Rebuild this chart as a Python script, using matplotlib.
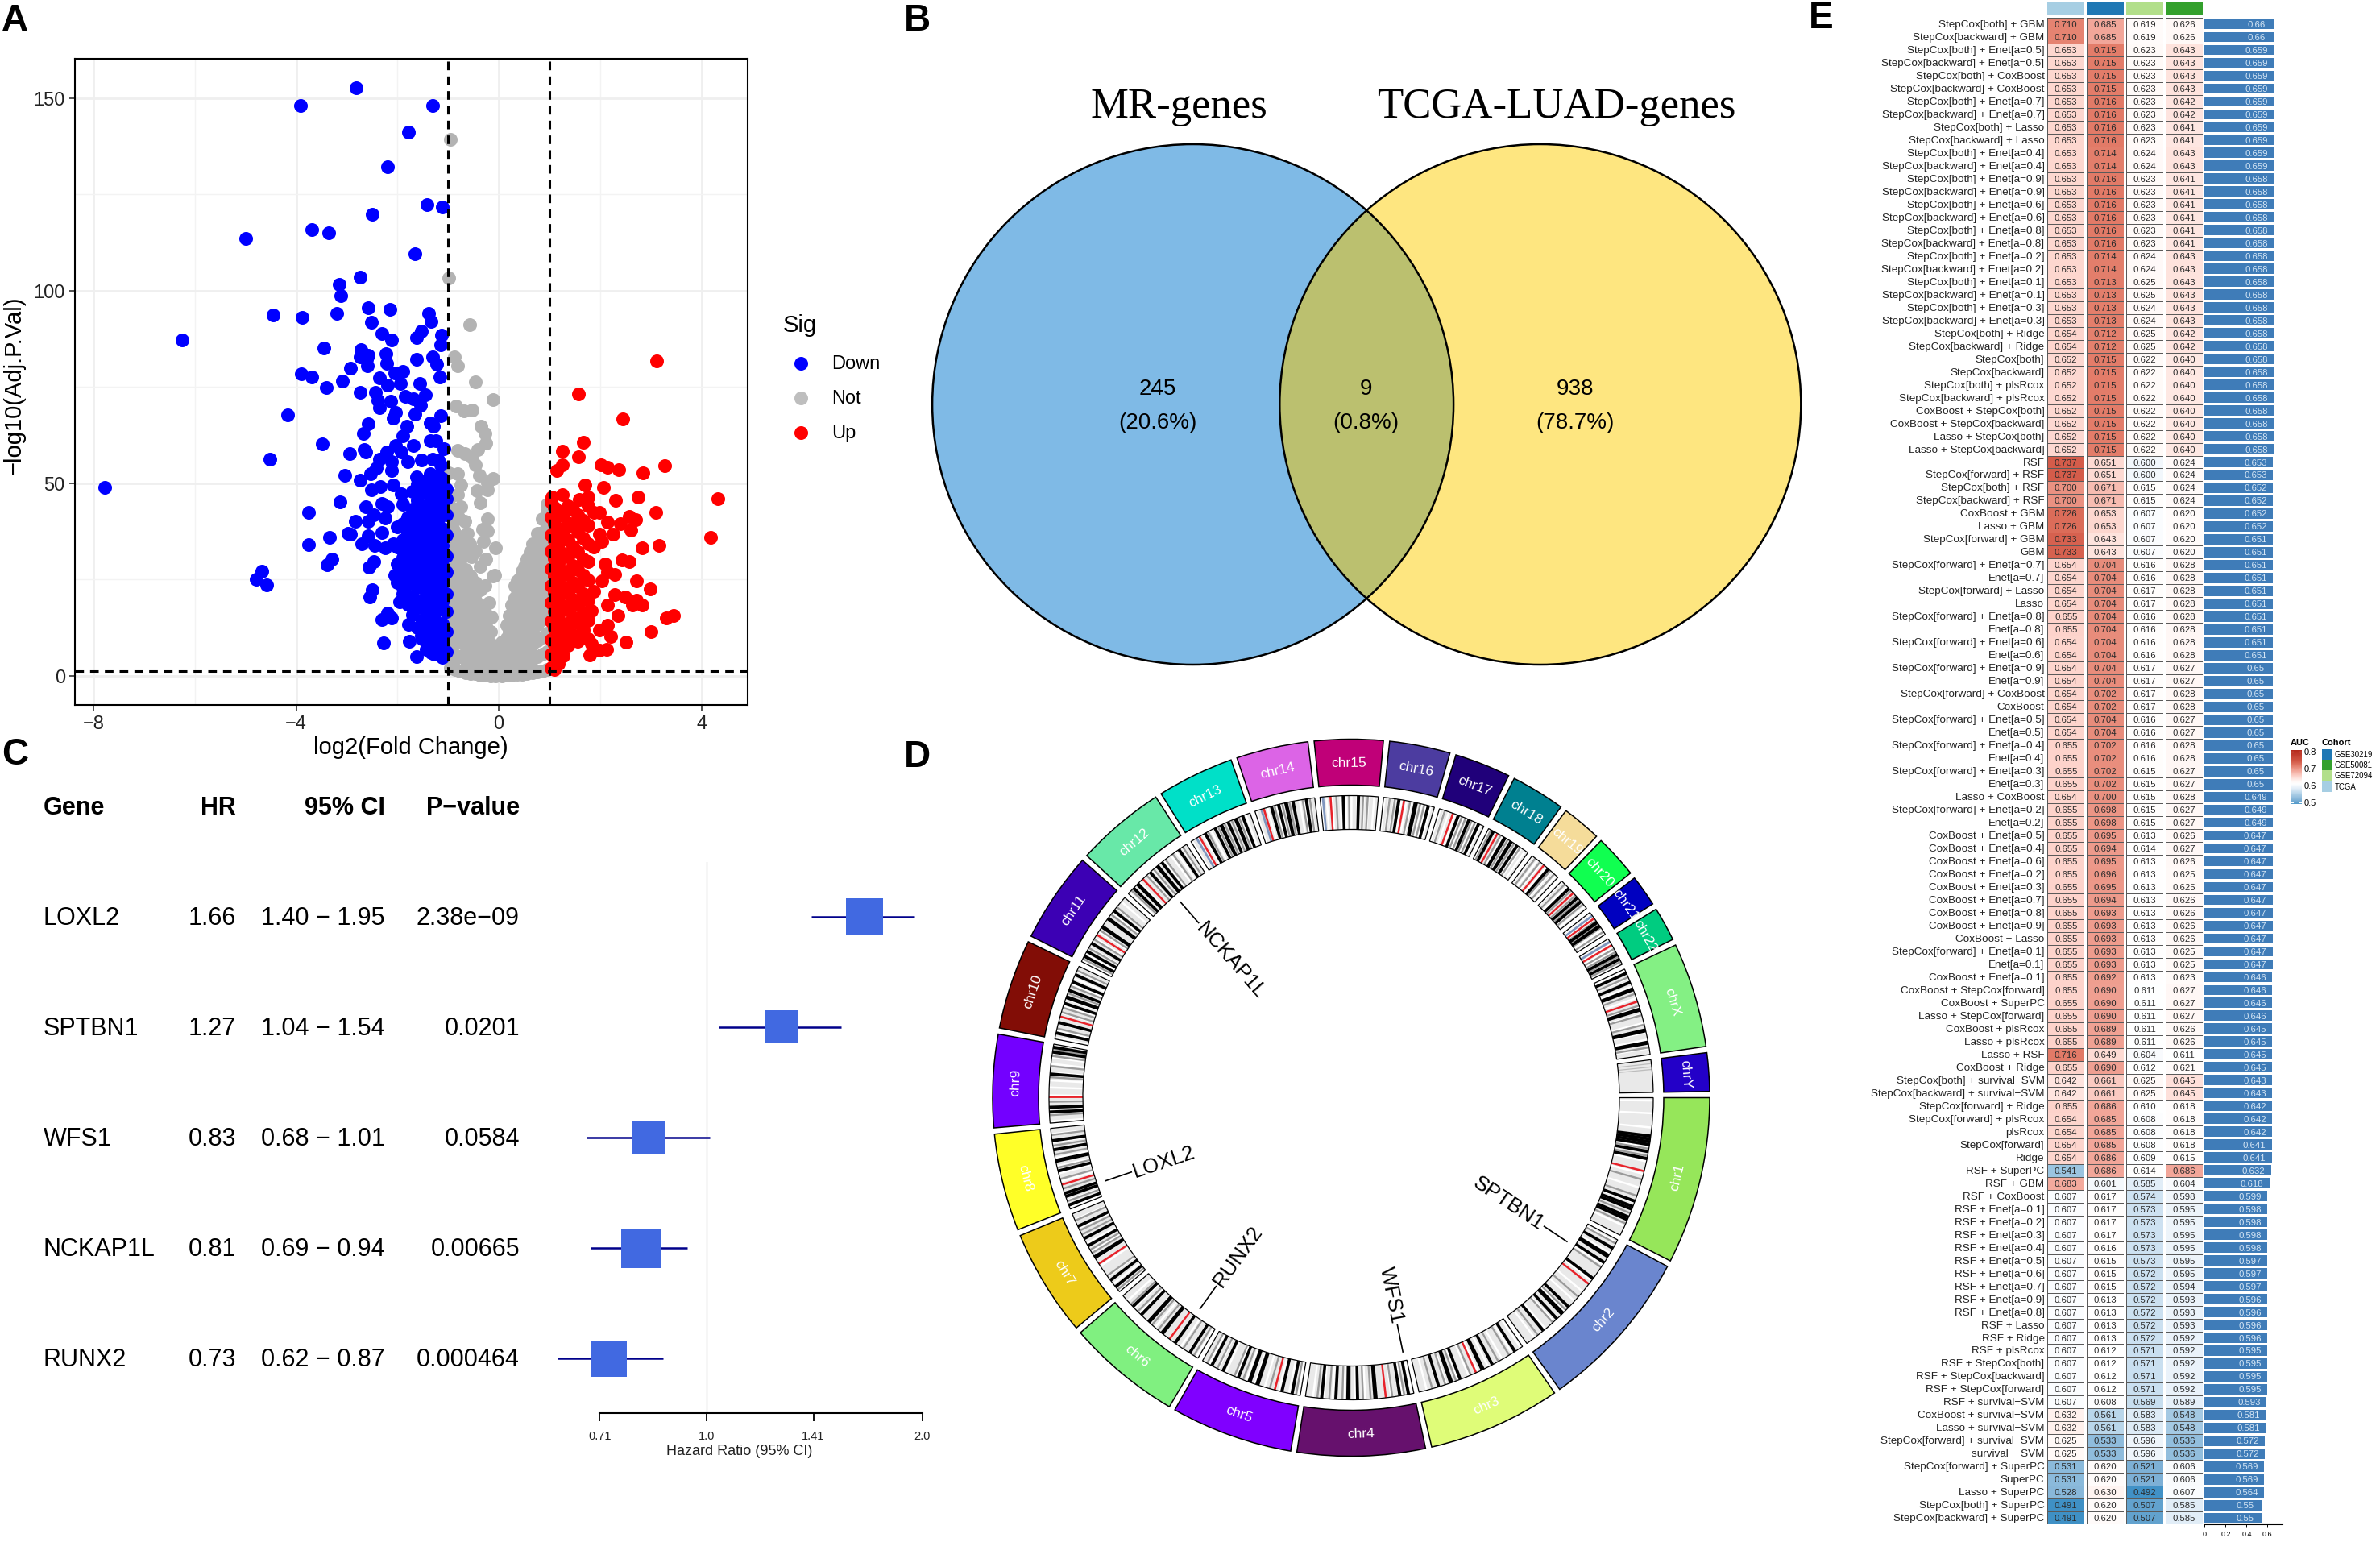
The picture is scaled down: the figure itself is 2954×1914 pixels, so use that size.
import numpy as np
import matplotlib
matplotlib.use("Agg")
import matplotlib.pyplot as plt
from matplotlib.colors import LinearSegmentedColormap
from matplotlib.patches import Ellipse, Wedge, Rectangle

plt.rcParams['font.family'] = ['Liberation Sans', 'DejaVu Sans']

W, H = 2954, 1915

# ---- panel A, volcano: scattered points read one by one, dense parts by column
down_points = [
    (-2.82,152.6),(-3.91,148.1),(-1.30,148.1),(-1.78,141.2),(-2.19,132.1),(-1.41,122.4),(-1.11,121.8),
    (-2.50,119.8),(-3.69,115.9),(-3.36,115.1),(-4.99,113.6),(-1.65,109.6),(-2.73,103.6),(-3.15,101.7),
    (-3.12,98.8),(-2.58,95.6),(-2.15,95.1),(-1.39,94.2),(-4.45,93.7),(-3.20,94.1),(-3.88,93.0),(-2.52,91.8),
    (-1.34,92.0),(-1.53,89.5),(-2.31,88.9),(-1.62,87.8),(-1.13,88.5),(-2.11,87.2),(-6.25,87.1),(-1.14,85.9),
    (-3.45,85.1),(-2.72,84.6),(-2.58,83.2),(-2.23,83.6),(-2.74,82.7),(-1.31,82.8),(-1.63,82.1),(-2.61,82.2),
    (-2.21,81.2),(-1.23,80.9),(-2.60,80.4),(-2.92,79.9),(-3.89,78.4),(-3.69,77.6),(-1.89,79.0),(-2.06,78.6),
    (-2.36,77.3),(-1.16,77.5),(-3.09,76.6),(-1.94,75.8),(-2.19,75.5),(-1.56,75.8),(-3.41,74.9),(-2.74,73.6),
    (-2.43,73.6),(-1.45,73.0),(-2.38,71.6),(-2.14,71.3),(-1.85,72.6),(-1.68,72.0),(-1.54,70.3),(-2.36,69.7),
    (-2.04,68.4),(-1.65,67.9),(-2.08,67.0),(-1.14,67.6),(-4.16,67.7),(-2.58,65.4),(-1.36,65.6),(-1.29,64.9),
    (-1.82,64.8),(-2.67,63.0),(-1.89,62.4),(-1.36,61.1),(-1.24,61.1),(-3.48,60.2),(-2.04,59.8),(-1.69,59.8),
    (-1.09,59.0),(-2.95,57.7),(-2.66,58.8),(-2.62,58.1),(-2.21,58.1),(-1.92,58.1),(-4.52,56.3),(-2.36,56.3),
    (-2.11,55.7),(-1.80,55.7),(-1.53,56.0),(-1.30,56.3),(-1.19,56.0),(-1.14,54.7),(-2.11,53.4),(-2.42,54.0),
    (-2.53,52.4),(-3.04,52.1),(-2.73,50.8),(-1.63,51.7),(-1.19,52.1),(-2.51,48.3),(-2.34,49.2),(-2.08,49.6),
    (-7.77,48.9),(-1.92,47.2),(-3.13,45.1),(-3.75,42.4),(-2.62,43.8),(-2.31,44.8),(-2.47,41.9),(-2.19,43.8),
    (-2.58,40.2),(-2.83,40.2),(-2.25,41.0),(-2.97,37.0),(-2.92,36.7),(-3.34,36.0),(-3.75,34.1),(-2.70,34.3),
    (-2.58,36.4),(-2.45,33.9),(-2.31,37.1),(-2.25,33.2),(-2.08,34.2),(-3.29,30.2),(-3.39,28.8),(-2.47,29.7),
    (-2.56,28.2),(-4.67,27.1),(-4.79,25.0),(-4.58,23.7),(-2.50,22.4),(-2.54,20.5),(-2.06,26.2),(-1.92,23.6),
    (-1.95,19.2),(-2.19,16.3),(-2.11,15.1),(-2.30,14.6),(-1.78,13.3),(-2.27,8.6),(-1.76,9.0),(-1.62,4.9),
    (-1.53,10.5),(-1.34,6.0),
]
down_columns = [
    (-1.04,[6.2,11.4,16.8,21.3,26.9,31.2,36.5,41.8,45.9,48.6]),
    (-1.12,[4.7,9.1,13.6,19.2,24.1,28.7,33.8,38.2,43.4,47.3,51.2]),
    (-1.20,[7.3,12.2,17.1,22.5,27.4,31.9,35.6,40.7,44.8,49.5]),
    (-1.28,[5.6,10.3,14.8,20.4,25.6,30.1,34.7,39.3,42.6,46.9,50.5]),
    (-1.36,[8.1,13.1,18.3,23.2,28.3,32.9,37.6,41.5,45.2,48.1,52.4]),
    (-1.44,[6.8,11.7,16.2,21.6,26.4,30.8,35.2,39.9,44.1,50.8]),
    (-1.52,[9.5,14.3,19.4,24.8,29.3,33.5,38.1,42.7,47.6]),
    (-1.60,[12.5,17.8,22.9,27.7,31.6,36.3,40.9,45.6,49.8]),
    (-1.70,[15.9,20.7,25.3,29.9,34.6,38.8,43.2,47.8]),
    (-1.80,[18.6,23.8,28.1,32.4,37.2,41.1]),
    (-1.90,[21.2,26.8,30.7,35.4,39.5,44.6]),
    (-2.00,[24.3,29.1,33.4,38.6]),
]
not_points = [
    (-0.95,139.3),(-0.99,103.2),(-0.58,91.2),(-0.87,82.7),(-0.81,80.5),(-0.47,76.3),(-0.12,71.8),(-0.84,70.0),
    (-0.69,68.8),(-0.52,69.0),(-0.35,64.9),(-0.27,63.0),(-0.25,60.4),(-0.41,58.8),(-0.82,58.6),(-0.67,57.6),
    (-0.52,56.6),(-0.47,54.7),(-0.99,52.6),(-0.82,52.4),(-0.39,52.0),(-0.11,51.2),(-0.22,50.2),(-0.75,49.6),
    (-0.43,48.0),(-0.22,48.3),(-0.82,47.0),(-0.36,45.0),(-0.75,43.8),(-0.22,40.8),(-0.67,40.2),(-0.86,40.6),
    (-0.32,38.0),(-0.22,37.6),(-0.06,33.2),(-0.30,34.8),(-0.58,34.2),(-0.78,36.1),(-0.47,32.3),(-0.69,31.6),
    (-0.86,32.9),(-0.25,30.3),(-0.36,28.4),(-0.08,26.2),(-0.27,23.3),(-0.12,25.9),(-0.62,36.9),(-0.72,34.3),
    (-0.55,30.9),(-0.90,37.8),(-0.80,41.2),(-0.14,15.2),(-0.20,19.1),
]
not_columns = [
    (-0.96,[2.1,6.4,10.7,15.3,19.8,24.2,28.9,33.4,38.2,42.7,46.3]),
    (-0.91,[3.4,8.3,12.6,17.1,21.7,26.2,30.8,35.5]),
    (-0.86,[1.6,5.5,9.6,13.9,18.4,22.7,27.1,31.5,36.8,43.2]),
    (-0.76,[1.2,4.9,8.7,12.4,16.6,20.9,25.2,29.8]),
    (-0.66,[0.9,4.1,7.7,11.3,15.1,19.3,23.4,27.6]),
    (-0.56,[0.6,3.6,6.9,10.2,13.7,17.6,21.8,25.9]),
    (-0.46,[0.5,3.2,6.1,9.3,12.6,16.1,19.7,24.3]),
    (-0.36,[0.2,2.7,5.4,8.2,11.1,14.4,18.2,22.3]),
    (-0.26,[0.1,2.3,4.6,7.1,9.8,12.9,16.1]),
    (-0.16,[0.0,1.8,3.9,6.2,8.4,11.4]),
    (-0.06,[0.0,1.4,3.1,5.2,7.6]),
    (0.06,[0.0,1.5,3.3,6.1,8.7]),
    (0.16,[0.1,2.0,4.2,6.8,9.7,13.2]),
    (0.21,[1.3,3.6,5.9,8.3,11.4,15.6]),
    (0.26,[0.2,2.4,4.9,7.7,10.6,14.1,18.3]),
    (0.31,[1.6,4.1,6.6,9.4,12.6,16.4,20.2,23.4]),
    (0.36,[0.3,2.9,5.8,8.6,11.8,14.9,18.7,22.4,24.6]),
    (0.41,[1.9,4.7,7.6,10.7,13.9,17.6,21.2,25.3]),
    (0.46,[0.4,3.4,6.7,9.8,13.2,16.7,19.1,23.2,27.1]),
    (0.51,[2.2,5.3,8.8,12.3,15.8,20.2,24.7,28.4]),
    (0.56,[0.6,3.9,7.4,11.0,14.7,18.4,21.6,24.8,28.3,30.4]),
    (0.61,[2.4,6.1,9.6,13.4,17.3,22.6,26.3,32.1]),
    (0.66,[0.8,4.4,8.3,12.1,16.2,20.3,24.1,27.4,30.5,34.2]),
    (0.76,[1.0,5.0,9.2,13.4,17.7,22.0,26.3,30.6,34.2,37.0]),
    (0.86,[1.3,5.7,10.0,14.6,19.1,23.7,28.4,32.9,37.2,40.8]),
    (0.95,[1.7,6.3,11.0,15.9,20.6,25.4,30.2,34.7,39.1,42.7,44.6]),
]
up_points = [
    (3.12,81.8),(1.57,73.1),(2.44,66.6),(1.67,60.7),(1.25,58.3),(1.57,56.9),(1.26,54.7),(1.15,53.4),(2.01,54.8),
    (2.15,54.2),(2.37,53.6),(3.28,54.5),(2.85,52.6),(1.70,49.6),(2.06,48.9),(4.32,46.0),(2.75,46.4),(2.30,45.5),
    (4.18,36.0),(3.09,42.4),(2.70,40.6),(2.57,41.4),(2.40,39.4),(2.61,37.9),(3.16,33.8),(2.82,33.2),(2.43,30.1),
    (2.57,29.7),(2.28,26.4),(2.72,24.6),(2.99,22.5),(2.28,21.0),(2.50,20.4),(2.71,19.6),(2.82,18.4),(2.63,18.4),
    (2.14,18.4),(2.35,15.6),(3.30,15.1),(3.44,15.6),(3.01,11.4),(2.51,8.8),(2.13,6.9),(2.21,10.2),(1.79,5.4),
    (1.82,8.3),(1.98,6.7),(2.15,13.1),(1.98,11.8),(1.87,42.5),(1.98,42.5),(2.15,40.0),(1.98,36.7),(2.26,36.7),
    (1.87,33.5),(2.04,34.8),(2.09,29.0),(2.15,27.0),(2.04,24.6),(1.87,22.0),(1.82,16.9),(1.76,46.4),(1.59,45.7),
    (1.26,47.0),(1.04,46.4),
]
up_columns = [
    (1.03,[2.0,5.7,9.3,14.1,18.9,23.4,27.8,32.3,36.6,41.2,45.1]),
    (1.10,[1.6,4.3,8.1,12.4,16.7,21.5,25.9,30.6,35.1,39.4,43.7]),
    (1.18,[3.2,7.2,11.1,15.8,20.3,24.6,29.2,34.2,38.3,42.8]),
    (1.27,[5.1,9.9,13.6,18.2,22.7,27.1,31.7,37.2,41.6]),
    (1.36,[7.9,12.7,17.4,21.6,26.3,30.9,35.4,39.8,44.1]),
    (1.46,[10.6,15.2,19.8,24.2,28.7,33.6,38.9,43.3]),
    (1.56,[8.9,13.8,18.6,23.1,27.5,32.1,37.4,41.9]),
    (1.66,[11.8,16.4,21.2,26.1,30.4,35.7,40.3]),
    (1.76,[9.6,14.5,19.7,24.9,29.6,34.3,39.1,44.2]),
]

# ---- panel B
venn_sets = ["MR-genes", "TCGA-LUAD-genes"]
venn_counts = ["245", "9", "938"]
venn_pcts = ["(20.6%)", "(0.8%)", "(78.7%)"]

# ---- panel C
forest_genes = ["LOXL2", "SPTBN1", "WFS1", "NCKAP1L", "RUNX2"]
forest_hr = [1.66, 1.27, 0.83, 0.81, 0.73]
forest_lo = [1.40, 1.04, 0.68, 0.69, 0.62]
forest_hi = [1.95, 1.54, 1.01, 0.94, 0.87]
forest_p = ["2.38e\u221209", "0.0201", "0.0584", "0.00665", "0.000464"]
forest_box = [46, 41, 41, 49, 45]

# ---- panel D
chrom_names = ["chr1","chr2","chr3","chr4","chr5","chr6","chr7","chr8","chr9","chr10","chr11","chr12",
               "chr13","chr14","chr15","chr16","chr17","chr18","chr19","chr20","chr21","chr22","chrX","chrY"]
chrom_mb = [248.9,242.2,198.3,190.2,181.5,170.8,159.3,145.1,138.4,133.8,135.1,133.3,
            114.4,107.0,102.0,90.3,83.3,80.4,58.6,64.4,46.7,50.8,156.0,57.2]
chrom_colors = ["#96E65A","#6A85CE","#DFFC78","#66116D","#8000FF","#80F080","#EDCB1A","#FFFF28","#7300FF","#820D06",
                "#3C00B4","#68E8A8","#00E0C8","#DC64E6","#C00078","#4C3CA0","#20007A","#008090","#F5DC9A","#10FF50",
                "#0000C0","#00CC80","#84F084","#2300C8"]
centromere = [0.52,0.38,0.47,0.26,0.25,0.35,0.38,0.31,0.33,0.30,0.40,0.27,
              0.15,0.15,0.18,0.40,0.30,0.22,0.45,0.45,0.27,0.25,0.39,None]
dark_bands = [
    [0.27,0.29,0.31,0.33,0.38,0.43,0.74,0.78,0.80,0.86,0.88],
    [0.07,0.13,0.14,0.19,0.33,0.60,0.66,0.67,0.72,0.85],
    [0.08,0.31,0.40,0.41,0.62,0.70,0.71,0.82],
    [0.05,0.13,0.35,0.36,0.52,0.60,0.61,0.72,0.85],
    [0.08,0.18,0.42,0.43,0.50,0.51,0.62,0.78,0.90],
    [0.10,0.28,0.44,0.45,0.62,0.63,0.73,0.85],
    [0.07,0.16,0.46,0.47,0.61,0.70,0.85],
    [0.05,0.16,0.20,0.48,0.60,0.61,0.74,0.85],
    [0.14,0.20,0.62,0.90,0.96],
    [0.08,0.22,0.48,0.56,0.57,0.66,0.78,0.88],
    [0.08,0.15,0.27,0.52,0.53,0.65,0.66,0.78],
    [0.10,0.17,0.18,0.40,0.52,0.53,0.60,0.88],
    [0.25,0.42,0.52,0.53,0.64,0.76,0.77,0.88],
    [0.28,0.40,0.52,0.53,0.64,0.86],
    [0.40,0.66],
    [0.30,0.62,0.63,0.64,0.88],
    [0.42,0.66,0.88],
    [0.12,0.40,0.41,0.56,0.57,0.72],
    [0.62],
    [0.28,0.62,0.76],
    [0.45,0.46,0.62,0.63],
    [0.62,0.80],
    [0.05,0.16,0.24,0.25,0.48,0.49,0.72,0.73,0.86,0.87],
    [],
]
mid_bands = [
    [0.36,0.41,0.58,0.70,0.83,0.91],
    [0.03,0.23,0.50,0.63,0.76,0.90],
    [0.14,0.25,0.52,0.66,0.76,0.88],
    [0.09,0.20,0.40,0.47,0.66,0.78,0.89],
    [0.04,0.30,0.57,0.66,0.84,0.95],
    [0.05,0.18,0.50,0.58,0.78,0.88],
    [0.03,0.22,0.52,0.56,0.75,0.80,0.92],
    [0.10,0.26,0.38,0.52,0.68,0.79,0.92],
    [0.10,0.27,0.58,0.72,0.85,0.93],
    [0.14,0.36,0.42,0.62,0.72,0.94],
    [0.04,0.20,0.33,0.47,0.72,0.84],
    [0.06,0.34,0.46,0.66,0.78,0.94],
    [0.30,0.47,0.58,0.70,0.82],
    [0.33,0.46,0.58,0.80,0.92],
    [0.28,0.50,0.74,0.82],
    [0.12,0.22,0.52,0.72,0.80],
    [0.12,0.50,0.58,0.72,0.80],
    [0.06,0.30,0.48,0.64,0.80],
    [0.12,0.30,0.70,0.85],
    [0.12,0.36,0.54,0.70,0.85],
    [0.38,0.54,0.70,0.88],
    [0.40,0.52,0.70,0.90],
    [0.10,0.30,0.44,0.55,0.66,0.92],
    [],
]
blue_bands = {12: [0.10], 13: [0.11], 14: [0.05], 20: [0.15], 21: [0.12]}
pale_stripes = [0.02,0.11,0.21,0.35,0.45,0.54,0.64,0.75,0.83,0.93]
chry_stripes = [0.12, 0.22, 0.30]
gene_names = ["SPTBN1", "WFS1", "RUNX2", "LOXL2", "NCKAP1L"]
gene_angles = [33.7, 78.5, 125.6, 161.3, 228.9]

# ---- panel E
model_names = [
    "StepCox[both] + GBM","StepCox[backward] + GBM","StepCox[both] + Enet[a=0.5]","StepCox[backward] + Enet[a=0.5]",
    "StepCox[both] + CoxBoost","StepCox[backward] + CoxBoost","StepCox[both] + Enet[a=0.7]","StepCox[backward] + Enet[a=0.7]",
    "StepCox[both] + Lasso","StepCox[backward] + Lasso","StepCox[both] + Enet[a=0.4]","StepCox[backward] + Enet[a=0.4]",
    "StepCox[both] + Enet[a=0.9]","StepCox[backward] + Enet[a=0.9]","StepCox[both] + Enet[a=0.6]","StepCox[backward] + Enet[a=0.6]",
    "StepCox[both] + Enet[a=0.8]","StepCox[backward] + Enet[a=0.8]","StepCox[both] + Enet[a=0.2]","StepCox[backward] + Enet[a=0.2]",
    "StepCox[both] + Enet[a=0.1]","StepCox[backward] + Enet[a=0.1]","StepCox[both] + Enet[a=0.3]","StepCox[backward] + Enet[a=0.3]",
    "StepCox[both] + Ridge","StepCox[backward] + Ridge","StepCox[both]","StepCox[backward]",
    "StepCox[both] + plsRcox","StepCox[backward] + plsRcox","CoxBoost + StepCox[both]","CoxBoost + StepCox[backward]",
    "Lasso + StepCox[both]","Lasso + StepCox[backward]","RSF","StepCox[forward] + RSF",
    "StepCox[both] + RSF","StepCox[backward] + RSF","CoxBoost + GBM","Lasso + GBM",
    "StepCox[forward] + GBM","GBM","StepCox[forward] + Enet[a=0.7]","Enet[a=0.7]",
    "StepCox[forward] + Lasso","Lasso","StepCox[forward] + Enet[a=0.8]","Enet[a=0.8]",
    "StepCox[forward] + Enet[a=0.6]","Enet[a=0.6]","StepCox[forward] + Enet[a=0.9]","Enet[a=0.9]",
    "StepCox[forward] + CoxBoost","CoxBoost","StepCox[forward] + Enet[a=0.5]","Enet[a=0.5]",
    "StepCox[forward] + Enet[a=0.4]","Enet[a=0.4]","StepCox[forward] + Enet[a=0.3]","Enet[a=0.3]",
    "Lasso + CoxBoost","StepCox[forward] + Enet[a=0.2]","Enet[a=0.2]","CoxBoost + Enet[a=0.5]",
    "CoxBoost + Enet[a=0.4]","CoxBoost + Enet[a=0.6]","CoxBoost + Enet[a=0.2]","CoxBoost + Enet[a=0.3]",
    "CoxBoost + Enet[a=0.7]","CoxBoost + Enet[a=0.8]","CoxBoost + Enet[a=0.9]","CoxBoost + Lasso",
    "StepCox[forward] + Enet[a=0.1]","Enet[a=0.1]","CoxBoost + Enet[a=0.1]","CoxBoost + StepCox[forward]",
    "CoxBoost + SuperPC","Lasso + StepCox[forward]","CoxBoost + plsRcox","Lasso + plsRcox",
    "Lasso + RSF","CoxBoost + Ridge","StepCox[both] + survival\u2212SVM","StepCox[backward] + survival\u2212SVM",
    "StepCox[forward] + Ridge","StepCox[forward] + plsRcox","plsRcox","StepCox[forward]",
    "Ridge","RSF + SuperPC","RSF + GBM","RSF + CoxBoost",
    "RSF + Enet[a=0.1]","RSF + Enet[a=0.2]","RSF + Enet[a=0.3]","RSF + Enet[a=0.4]",
    "RSF + Enet[a=0.5]","RSF + Enet[a=0.6]","RSF + Enet[a=0.7]","RSF + Enet[a=0.9]",
    "RSF + Enet[a=0.8]","RSF + Lasso","RSF + Ridge","RSF + plsRcox",
    "RSF + StepCox[both]","RSF + StepCox[backward]","RSF + StepCox[forward]","RSF + survival\u2212SVM",
    "CoxBoost + survival\u2212SVM","Lasso + survival\u2212SVM","StepCox[forward] + survival\u2212SVM","survival \u2212 SVM",
    "StepCox[forward] + SuperPC","SuperPC","Lasso + SuperPC","StepCox[both] + SuperPC",
    "StepCox[backward] + SuperPC",
]
auc_tcga = [
    .710,.710,.653,.653,.653,.653,.653,.653,.653,.653,.653,.653,.653,.653,.653,.653,.653,.653,.653,.653,.653,.653,.653,.653,
    .654,.654,.652,.652,.652,.652,.652,.652,.652,.652,.737,.737,.700,.700,.726,.726,.733,.733,
    .654,.654,.654,.654,.655,.655,.654,.654,.654,.654,.654,.654,.654,.654,.655,.655,.655,.655,.654,.655,.655,
    .655,.655,.655,.655,.655,.655,.655,.655,.655,.655,.655,.655,.655,.655,.655,.655,.655,.716,.655,.642,.642,
    .655,.654,.654,.654,.654,.541,.683,.607,.607,.607,.607,.607,.607,.607,.607,.607,.607,.607,.607,.607,.607,.607,.607,.607,
    .632,.632,.625,.625,.531,.531,.528,.491,.491,
]
auc_gse30219 = [
    .685,.685,.715,.715,.715,.715,.716,.716,.716,.716,.714,.714,.716,.716,.716,.716,.716,.716,.714,.714,.713,.713,.713,.713,
    .712,.712,.715,.715,.715,.715,.715,.715,.715,.715,.651,.651,.671,.671,.653,.653,.643,.643,
    .704,.704,.704,.704,.704,.704,.704,.704,.704,.704,.702,.702,.704,.704,.702,.702,.702,.702,.700,.698,.698,
    .695,.694,.695,.696,.695,.694,.693,.693,.693,.693,.693,.692,.690,.690,.690,.689,.689,.649,.690,.661,.661,
    .686,.685,.685,.685,.686,.686,.601,.617,.617,.617,.617,.616,.615,.615,.615,.613,.613,.613,.613,.612,.612,.612,.612,.608,
    .561,.561,.533,.533,.620,.620,.630,.620,.620,
]
auc_gse72094 = [
    .619,.619,.623,.623,.623,.623,.623,.623,.623,.623,.624,.624,.623,.623,.623,.623,.623,.623,.624,.624,.625,.625,.624,.624,
    .625,.625,.622,.622,.622,.622,.622,.622,.622,.622,.600,.600,.615,.615,.607,.607,.607,.607,
    .616,.616,.617,.617,.616,.616,.616,.616,.617,.617,.617,.617,.616,.616,.616,.616,.615,.615,.615,.615,.615,
    .613,.614,.613,.613,.613,.613,.613,.613,.613,.613,.613,.613,.611,.611,.611,.611,.611,.604,.612,.625,.625,
    .610,.608,.608,.608,.609,.614,.585,.574,.573,.573,.573,.573,.573,.572,.572,.572,.572,.572,.572,.571,.571,.571,.571,.569,
    .583,.583,.596,.596,.521,.521,.492,.507,.507,
]
auc_gse50081 = [
    .626,.626,.643,.643,.643,.643,.642,.642,.641,.641,.643,.643,.641,.641,.641,.641,.641,.641,.643,.643,.643,.643,.643,.643,
    .642,.642,.640,.640,.640,.640,.640,.640,.640,.640,.624,.624,.624,.624,.620,.620,.620,.620,
    .628,.628,.628,.628,.628,.628,.628,.628,.627,.627,.628,.628,.627,.627,.628,.628,.627,.627,.628,.627,.627,
    .626,.627,.626,.625,.625,.626,.626,.626,.626,.625,.625,.623,.627,.627,.627,.626,.626,.611,.621,.645,.645,
    .618,.618,.618,.618,.615,.686,.604,.598,.595,.595,.595,.595,.595,.595,.594,.593,.593,.593,.592,.592,.592,.592,.592,.589,
    .548,.548,.536,.536,.606,.606,.607,.585,.585,
]
auc_mean = [
    .66,.66,.659,.659,.659,.659,.659,.659,.659,.659,.659,.659,.658,.658,.658,.658,.658,.658,.658,.658,.658,.658,.658,.658,
    .658,.658,.658,.658,.658,.658,.658,.658,.658,.658,.653,.653,.652,.652,.652,.652,.651,.651,
    .651,.651,.651,.651,.651,.651,.651,.651,.65,.65,.65,.65,.65,.65,.65,.65,.65,.65,.649,.649,.649,
    .647,.647,.647,.647,.647,.647,.647,.647,.647,.647,.647,.646,.646,.646,.646,.645,.645,.645,.645,.643,.643,
    .642,.642,.642,.641,.641,.632,.618,.599,.598,.598,.598,.598,.597,.597,.597,.596,.596,.596,.596,.595,.595,.595,.595,.593,
    .581,.581,.572,.572,.569,.569,.564,.55,.55,
]
cohort_cols = ["TCGA", "GSE30219", "GSE72094", "GSE50081"]
cohort_colors = {"TCGA": "#A6CEE3", "GSE30219": "#1F78B4", "GSE72094": "#B2DF8A", "GSE50081": "#33A02C"}
cohort_legend = ["GSE30219", "GSE50081", "GSE72094", "TCGA"]
auc_ticks = [0.8, 0.7, 0.6, 0.5]

auc_cmap = LinearSegmentedColormap.from_list("auc", [
    (0.000, "#3F90C5"), (0.100, "#7EB1D6"), (0.200, "#ABCEE6"), (0.310, "#E3EEF8"), (0.390, "#FFFFFF"),
    (0.440, "#FFF8F6"), (0.530, "#FDD5CD"), (0.630, "#F2A79A"), (0.730, "#E27A67"), (0.800, "#D35A48"), (1.000, "#B52A1C")])
AUC_MIN, AUC_MAX = 0.49, 0.80

DOT_SIZE = 150

fig = plt.figure(figsize=(W / 100, H / 100), dpi=100, facecolor="white")


def px_axes(x0, y0, x1, y1):
    return fig.add_axes([x0 / W, 1 - y1 / H, (x1 - x0) / W, (y1 - y0) / H])


def expand(points, columns):
    xs = [p[0] for p in points]
    ys = [p[1] for p in points]
    for x, col in columns:
        xs += [x] * len(col)
        ys += col
    return xs, ys


# overlay in pixels for loose labels
bg = fig.add_axes([0, 0, 1, 1], zorder=-1)
bg.set_xlim(0, W)
bg.set_ylim(H, 0)
bg.axis("off")

for letter, x, y in [("A", 2, 26), ("B", 1122, 26), ("C", 2, 937), ("D", 1122, 940), ("E", 2245, 23)]:
    bg.text(x, y, letter, fontsize=33, fontweight="bold", va="center", ha="left")


def draw_volcano():
    ax = px_axes(92.6, 73.5, 928, 875.7)
    ax.set_xlim(-8.37, 4.91)
    ax.set_ylim(-7.5, 160.3)
    ax.set_xticks([-8, -4, 0, 4])
    ax.set_xticklabels(["\u22128", "\u22124", "0", "4"])
    ax.set_yticks([0, 50, 100, 150])
    ax.set_xticks([-6, -2, 2], minor=True)
    ax.set_yticks([25, 75, 125], minor=True)
    ax.grid(True, which="major", color="#EFEFEF", lw=2)
    ax.grid(True, which="minor", color="#F3F3F3", lw=1)
    ax.tick_params(which="minor", length=0)
    ax.tick_params(which="major", labelsize=17, length=5, width=1.2, color="#333333", labelcolor="#222222")
    ax.set_axisbelow(True)
    for s in ax.spines.values():
        s.set_linewidth(1.5)
    for points, columns, color in [(not_points, not_columns, "#B3B3B3"),
                                   (down_points, down_columns, "#0000FF"),
                                   (up_points, up_columns, "#FF0000")]:
        xs, ys = expand(points, columns)
        ax.scatter(xs, ys, s=DOT_SIZE, c=color, linewidths=0, zorder=3)
    for x in [-1, 1]:
        ax.axvline(x, color="black", lw=2.2, ls=(0, (3.5, 2.5)), zorder=4)
    ax.axhline(1.3, color="black", lw=2.2, ls=(0, (3.5, 2.5)), zorder=4)
    bg.text(510, 928, "log2(Fold Change)", fontsize=21, ha="center", va="center")
    bg.text(17.5, 478, "\u2212log10(Adj.P.Val)", fontsize=21, rotation=90, ha="center", va="center")
    bg.text(972, 404, "Sig", fontsize=21, va="center")
    for label, color, y in [("Down", "#0000FF", 452), ("Not", "#BEBEBE", 495), ("Up", "#FF0000", 538)]:
        bg.scatter([994], [y], s=DOT_SIZE, c=color, linewidths=0)
        bg.text(1032, y, label, fontsize=17, va="center")


def draw_venn():
    ax = px_axes(1100, 150, 2300, 850)
    ax.set_xlim(1100, 2300)
    ax.set_ylim(850, 150)
    ax.axis("off")
    left = Ellipse((1480.6, 503), 647, 646, fc="#7FBAE6", ec="none")
    right = Ellipse((1911.8, 503), 647, 646, fc="#FEE680", ec="none")
    ax.add_patch(left)
    ax.add_patch(right)
    lens = Ellipse((1480.6, 503), 647, 646, fc="#BBC06F", ec="none")
    ax.add_patch(lens)
    lens.set_clip_path(right)
    for cx in [1480.6, 1911.8]:
        ax.add_patch(Ellipse((cx, 503), 647, 646, fc="none", ec="black", lw=1.8))
    for name, x in zip(venn_sets, [1463, 1932]):
        bg.text(x, 133, name, family="Liberation Serif", fontsize=38, ha="center", va="center")
    for count, pct, x in zip(venn_counts, venn_pcts, [1437, 1695.5, 1955]):
        ax.text(x, 483, count, fontsize=20, ha="center", va="center")
        ax.text(x, 525, pct, fontsize=20, ha="center", va="center")


def draw_forest():
    ax = px_axes(680, 1071, 1150, 1755)
    ax.set_xscale("log", base=2)
    ax.set_xlim(0.601, 2.028)
    ax.set_ylim(0.504, 5.496)
    for s in ["top", "left", "right"]:
        ax.spines[s].set_visible(False)
    ax.spines["bottom"].set_bounds(0.71, 2.0)
    ax.spines["bottom"].set_linewidth(1.5)
    ax.yaxis.set_visible(False)
    ax.set_xticks([0.71, 1.0, 1.41, 2.0])
    ax.set_xticklabels(["0.71", "1.0", "1.41", "2.0"])
    ax.minorticks_off()
    ax.tick_params(axis="x", labelsize=10.5, length=7, width=1.3, pad=8, labelcolor="#222222")
    ax.axvline(1.0, color="#D4D4D4", lw=1.0, zorder=1)
    ypos = np.arange(len(forest_genes), 0, -1)
    ax.hlines(ypos, forest_lo, forest_hi, color="#00008B", lw=1.8, zorder=2)
    ax.scatter(forest_hr, ypos, marker="s", s=[(b * 0.72) ** 2 for b in forest_box], c="#4169E1", linewidths=0, zorder=3)
    ax.patch.set_alpha(0)
    bg.text(918, 1802, "Hazard Ratio (95% CI)", fontsize=13, ha="center", va="center", color="#222222")

    for label, x, ha in [("Gene", 54, "left"), ("HR", 293, "right"), ("95% CI", 478, "right"), ("P\u2212value", 645, "right")]:
        bg.text(x, 1003, label, fontsize=22, fontweight="bold", ha=ha, va="center")
    for i, gene in enumerate(forest_genes):
        y = 1140 + 137 * i
        bg.text(54, y, gene, fontsize=22, ha="left", va="center")
        bg.text(293, y, f"{forest_hr[i]:.2f}", fontsize=22, ha="right", va="center")
        bg.text(478, y, f"{forest_lo[i]:.2f} \u2212 {forest_hi[i]:.2f}", fontsize=22, ha="right", va="center")
        bg.text(645, y, forest_p[i], fontsize=22, ha="right", va="center")


def draw_circos():
    ax = px_axes(1677 - 450, 1363.5 - 450, 1677 + 450, 1363.5 + 450)
    ax.set_xlim(-450, 450)
    ax.set_ylim(450, -450)  # y runs down, so angles grow clockwise from east
    ax.set_aspect("equal")
    ax.axis("off")

    usable = 360.0 - len(chrom_mb)
    total = sum(chrom_mb)
    start = 0.0
    for i, name in enumerate(chrom_names):
        span = chrom_mb[i] / total * usable
        end = start + span
        ax.add_patch(Wedge((0, 0), 445, start, end, width=57, fc=chrom_colors[i], ec="black", lw=1.1))
        mid = (start + end) / 2
        rot = 90 - mid if mid < 180 else 270 - mid
        ax.text(416.5 * np.cos(np.radians(mid)), 416.5 * np.sin(np.radians(mid)), name, color="white", fontsize=12.5,
                rotation=rot, rotation_mode="anchor", ha="center", va="center", zorder=5)

        ring = [Wedge((0, 0), 375, start, end, width=42, fc="#E9E9E9", ec="none")]
        if name != "chrY":
            bands = [(f, 0.4, "#FFFFFF") for f in pale_stripes]
        else:
            bands = [(f, 0.2, "#BDBDBD") for f in chry_stripes]
        bands += [(f, 0.38, "#9A9A9A") for f in mid_bands[i]]
        bands += [(f, 0.6, "#000000") for f in dark_bands[i]]
        bands += [(f, 0.45, "#7F96BE") for f in blue_bands.get(i, [])]
        if centromere[i] is not None:
            bands.append((centromere[i], 0.4, "#E8222A"))
        for frac, width, color in bands:
            th = start + frac * span
            ring.append(Wedge((0, 0), 375, th - width / 2, th + width / 2, width=42, fc=color, ec="none"))
        for w in ring:
            ax.add_patch(w)
        ax.add_patch(Wedge((0, 0), 375, start, end, width=42, fc="none", ec="black", lw=0.9))
        start = end + 1.0

    for gene, th in zip(gene_names, gene_angles):
        c, s = np.cos(np.radians(th)), np.sin(np.radians(th))
        ax.plot([322 * c, 288 * c], [322 * s, 288 * s], color="black", lw=1.2)
        if 90 < th < 270:
            rot, ha = 180 - th, "left"
        else:
            rot, ha = -th, "right"
        ax.text(285 * c, 285 * s, gene, fontsize=18.5, rotation=rot, rotation_mode="anchor", ha=ha, va="center")


def draw_heatmap():
    n = len(model_names)
    pitch = (1885.3 - 31) / (n - 1)
    top, bottom = 31 - pitch / 2, 1885.3 + pitch / 2
    edges = [(2541.4, 2587), (2590, 2636), (2639, 2685), (2688, 2733.6)]
    columns = [auc_tcga, auc_gse30219, auc_gse72094, auc_gse50081]

    for (x0, x1), name, vals in zip(edges, cohort_cols, columns):
        head = px_axes(x0, 4, x1, 20)
        head.set_facecolor(cohort_colors[name])
        head.set_xticks([])
        head.set_yticks([])
        for s in head.spines.values():
            s.set_visible(False)

        ax = px_axes(x0, top, x1, bottom)
        ax.pcolormesh([0, 1], np.arange(n + 1), np.array(vals)[:, None], cmap=auc_cmap, vmin=AUC_MIN, vmax=AUC_MAX,
                      edgecolors="#5A5A5A", linewidth=0.7)
        ax.set_xlim(0, 1)
        ax.set_ylim(n, 0)
        ax.axis("off")
        for r, v in enumerate(vals):
            ax.text(0.5, r + 0.5, f"{v:.3f}", fontsize=8.2, ha="center", va="center", color="#2b2b2b")

    for r, name in enumerate(model_names):
        bg.text(2537.5, top + (r + 0.5) * pitch, name, fontsize=9.7, ha="right", va="center", color="#222222")

    bar = px_axes(2736.4, top, 2833, bottom)
    ypos = np.arange(n) + 0.5
    bar.barh(ypos, auc_mean, height=0.8, color="#3F7CB8")
    for y, v in zip(ypos, auc_mean):
        bar.text(v - 0.165, y, f"{v:g}", fontsize=8.2, color="#D5E6F5", ha="center", va="center")
    bar.set_xlim(0, 96.6 / 130)
    bar.set_ylim(n, 0)
    for s in ["top", "left", "right"]:
        bar.spines[s].set_visible(False)
    bar.spines["bottom"].set_linewidth(0.8)
    bar.yaxis.set_visible(False)
    bar.set_xticks([0, 0.2, 0.4, 0.6])
    bar.set_xticklabels(["0", "0.2", "0.4", "0.6"])
    bar.tick_params(axis="x", labelsize=6.5, length=3, width=0.7, pad=2)

    # legends
    ramp = px_axes(2843, 932, 2857, 999)
    levels = np.linspace(0.8, 0.5, 120)[:, None]
    ramp.imshow(levels, cmap=auc_cmap, vmin=AUC_MIN, vmax=AUC_MAX, aspect="auto", extent=[0, 1, 0.49, 0.81])
    ramp.axis("off")
    bg.text(2843, 922, "AUC", fontsize=8, fontweight="bold", va="center")
    for tick, y in zip(auc_ticks, [934, 955, 976, 997]):
        bg.text(2860, y, f"{tick:.1f}", fontsize=8, va="center")
        ramp.plot([0, 0.2], [tick, tick], color="white", lw=0.8)
        ramp.plot([0.8, 1], [tick, tick], color="white", lw=0.8)
    ramp.set_xlim(0, 1)
    ramp.set_ylim(0.49, 0.81)
    bg.text(2882, 922, "Cohort", fontsize=8, fontweight="bold", va="center")
    for name, y in zip(cohort_legend, [937, 950, 963, 977]):
        bg.add_patch(Rectangle((2882, y - 6.5), 12, 13, fc=cohort_colors[name], ec="none"))
        bg.text(2898, y, name, fontsize=6.9, va="center")


draw_volcano()
draw_venn()
draw_forest()
draw_circos()
draw_heatmap()

fig.savefig("out.png", dpi=100, facecolor="white")
